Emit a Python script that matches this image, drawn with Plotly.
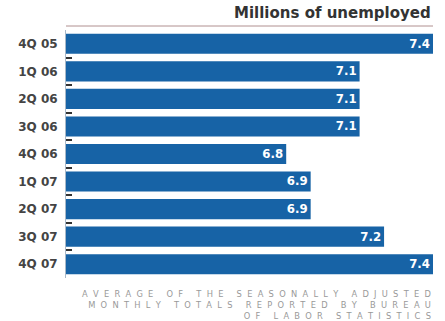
import plotly.graph_objects as go

quarters = ["4Q 05", "1Q 06", "2Q 06", "3Q 06", "4Q 06", "1Q 07", "2Q 07", "3Q 07", "4Q 07"]
unemployed = [7.4, 7.1, 7.1, 7.1, 6.8, 6.9, 6.9, 7.2, 7.4]
value_labels = ["7.4", "7.1", "7.1", "7.1", "6.8", "6.9", "6.9", "7.2", "7.4"]
note_lines = ["AVERAGE OF THE SEASONALLY ADJUSTED",
              "MONTHLY TOTALS REPORTED BY BUREAU",
              "OF LABOR STATISTICS"]


def spaced(s):
    words = s.split(" ")
    return "&nbsp;&nbsp;&nbsp;&nbsp;&nbsp;".join("&nbsp; ".join(w) for w in words)


fig = go.Figure(go.Bar(
    x=unemployed, y=quarters, orientation="h",
    marker=dict(color="#1763a6", line=dict(width=0)),
    text=value_labels, textposition="inside", insidetextanchor="end",
    textfont=dict(family="DejaVu Sans", size=15, color="white", weight="bold"),
    cliponaxis=False,
))

fig.update_layout(
    width=445, height=321,
    margin=dict(l=66, r=12, t=30, b=43),
    paper_bgcolor="white", plot_bgcolor="white",
    bargap=0.27, showlegend=False,
    xaxis=dict(range=[5.9, 7.4], visible=False, fixedrange=True),
    yaxis=dict(autorange="reversed", tickson="boundaries", ticks="inside",
               ticklen=6, tickwidth=2, tickcolor="#333",
               showline=True, linecolor="#a8b8c8", linewidth=1,
               showgrid=False,
               tickfont=dict(family="DejaVu Sans", size=12, color="#444", weight="bold"),
               ticklabelstandoff=5),
    annotations=[
        dict(text="<b>Millions of unemployed</b>", xref="paper", yref="paper",
             x=1, y=1, yshift=6, xanchor="right", yanchor="bottom", showarrow=False,
             font=dict(family="DejaVu Sans", size=15, color="#333")),
        dict(text="<br>".join(spaced(l) for l in note_lines),
             xref="paper", yref="paper", x=1, y=0, yshift=-9, xanchor="right", yanchor="top",
             align="right", showarrow=False,
             font=dict(family="DejaVu Sans", size=8.3, color="#999")),
    ],
    shapes=[dict(type="line", xref="paper", yref="paper", x0=0, x1=1,
                 ysizemode="pixel", yanchor=1, y0=4, y1=4,
                 line=dict(color="#b09090", width=1))],
)

fig.write_html("out.html")
